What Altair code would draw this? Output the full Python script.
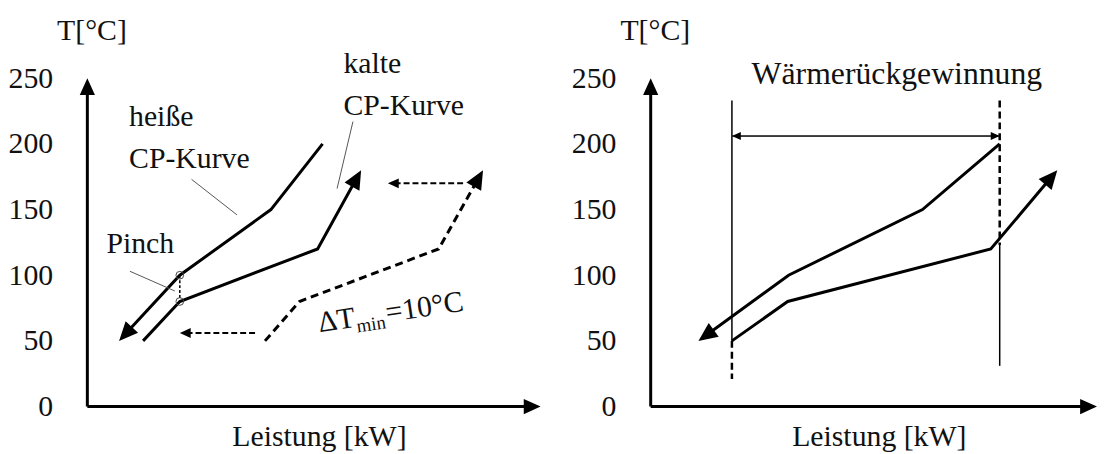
import math
import altair as alt
import pandas as pd

FONT = "Liberation Serif"
FS = 30
INK = "#000000"
TXT = "#111111"
GREY = "#555555"

Y_TICKS = [0, 50, 100, 150, 200, 250]
X_MAX = 100
Y_MAX = 250
W_L, W_R, H = 457, 450, 331

# ---------------- left panel data ----------------
L_hot_x = [51.9, 40.5, 20.4, 7.0]
L_hot_T = [200, 150, 100, 50]
L_cold_x = [12.3, 20.4, 50.8, 60.4]
L_cold_T = [50, 80, 120, 180]
L_shift_x = [39.2, 46.8, 77.5, 87.3]
L_shift_T = [50, 80, 120, 180]
L_top_arrow_x = [82.9, 66.3]
L_top_arrow_T = [170, 170]
L_bot_arrow_x = [37.0, 20.4]
L_bot_arrow_T = [56, 56]
L_pinch_x = [20.4, 20.4]
L_pinch_T = [100, 80]
L_lead_hot_x = [23.0, 33.0]
L_lead_hot_T = [173, 146]
L_lead_cold_x = [58.6, 55.1]
L_lead_cold_T = [217, 166]
L_lead_pinch_x = [9.4, 19.3]
L_lead_pinch_T = [103, 88]
L_labels = ["heiße", "CP-Kurve", "kalte", "CP-Kurve", "Pinch"]
L_label_x = [9.2, 9.2, 56.5, 56.5, 4.2]
L_label_T = [214, 182, 254, 222, 117]
DT_parts = ["ΔT", "min", "=10°C"]
DT_x = 51.2
DT_T = 56.6

# ---------------- right panel data ----------------
R_hot_x = [78.2, 60.9, 30.9, 10.7]
R_hot_T = [200, 150, 100, 50]
R_cold_x = [18.2, 30.7, 76.2, 91.1]
R_cold_T = [50, 80, 120, 180]
R_vl_left_x = 18.2
R_vl_right_x = 78.2
R_vl_left_solid_T = [233, 50]
R_vl_left_dash_T = [50, 21]
R_vl_right_dash_T = [233, 123]
R_vl_right_solid_T = [123, 31]
R_span_x = [18.2, 78.2]
R_span_T = [206, 206]
R_title = ["Wärmerückgewinnung"]
R_title_x = [22.6]
R_title_T = [245.5]

ARROW = "M0,0L-0.45,1L0.45,1Z"


def enc_x(w):
    return alt.X(
        "x:Q",
        scale=alt.Scale(domain=[0, X_MAX], nice=False, zero=False),
        axis=alt.Axis(
            title="Leistung [kW]", labels=False, ticks=False, tickSize=0, domain=False, grid=False,
            titleFont=FONT, titleFontSize=FS, titleFontWeight="normal", titleColor=TXT,
            titleX=w / 2 + 5, titleY=39, titleBaseline="alphabetic", titleAlign="center",
        ),
    )


def enc_y():
    return alt.Y(
        "y:Q",
        scale=alt.Scale(domain=[0, Y_MAX], nice=False, zero=False),
        axis=alt.Axis(
            values=Y_TICKS, ticks=False, tickSize=0, domain=False, grid=False,
            labelFont=FONT, labelFontSize=FS, labelColor=TXT, labelPadding=35,
            title="T[°C]", titleAngle=0, titleX=-31, titleY=-39, titleAlign="left",
            titleBaseline="alphabetic", titleFont=FONT, titleFontSize=FS,
            titleFontWeight="normal", titleColor=TXT,
        ),
    )


class Panel:
    def __init__(self, w):
        self.w = w
        self.sx = w / X_MAX
        self.sy = H / Y_MAX
        self.layers = []
        self.heads = []

    def line(self, xs, ys, width, dash=None, color=INK, head=None):
        xs = list(xs)
        ys = list(ys)
        if head:
            x0, x1, y0, y1 = xs[-2], xs[-1], ys[-2], ys[-1]
            dxp, dyp = (x1 - x0) * self.sx, (y1 - y0) * self.sy
            ang = math.degrees(math.atan2(dxp, dyp)) % 360
            self.heads.append({"x": x1, "y": y1, "angle": ang, "size": (2 * head) ** 2})
            d = math.hypot(dxp, dyp)
            back = min(head * 0.6, d * 0.5)
            xs[-1] = x1 - (x1 - x0) * back / d
            ys[-1] = y1 - (y1 - y0) * back / d
        df = pd.DataFrame({"x": xs, "y": ys, "i": list(range(len(xs)))})
        kw = dict(color=color, strokeWidth=width, strokeCap="butt", strokeJoin="miter")
        if dash:
            kw["strokeDash"] = dash
        self.layers.append(
            alt.Chart(df).mark_line(**kw).encode(x=enc_x(self.w), y=enc_y(), order="i:O")
        )

    def text(self, labels, xs, ys, size=FS, angle=None, dx=0, dy=0):
        df = pd.DataFrame({"x": xs, "y": ys, "t": labels})
        kw = dict(align="left", baseline="alphabetic", font=FONT, fontSize=size, color=TXT, dx=dx, dy=dy)
        if angle is not None:
            kw["angle"] = angle
        self.layers.append(
            alt.Chart(df).mark_text(**kw).encode(x=enc_x(self.w), y=enc_y(), text="t:N")
        )

    def circles(self, xs, ys):
        df = pd.DataFrame({"x": xs, "y": ys})
        self.layers.append(
            alt.Chart(df).mark_point(shape="circle", filled=False, size=60, color="#444444",
                                     strokeWidth=1, opacity=1).encode(x=enc_x(self.w), y=enc_y())
        )

    def chart(self):
        hd = pd.DataFrame(self.heads)
        heads = alt.Chart(hd).mark_point(shape=ARROW, filled=True, opacity=1, color=INK,
                                         strokeWidth=0).encode(
            x=enc_x(self.w), y=enc_y(),
            angle=alt.Angle("angle:Q", scale=None),
            size=alt.Size("size:Q", scale=None),
        )
        return alt.layer(*self.layers, heads).properties(width=self.w, height=H)


# ---------- left ----------
L = Panel(W_L)
L.line([0, 0], [0, Y_MAX], 3, head=17)
L.line([0, X_MAX], [0, 0], 3, head=17)
L.line(L_hot_x, L_hot_T, 3, head=19)
L.line(L_cold_x, L_cold_T, 3, head=19)
L.line(L_shift_x, L_shift_T, 3, dash=[8, 5], head=19)
L.line(L_top_arrow_x, L_top_arrow_T, 2, dash=[6, 3], head=11)
L.line(L_bot_arrow_x, L_bot_arrow_T, 2, dash=[6, 3], head=11)
L.line(L_pinch_x, L_pinch_T, 1.5, dash=[3, 2])
L.line(L_lead_hot_x, L_lead_hot_T, 1, color=GREY)
L.line(L_lead_cold_x, L_lead_cold_T, 1, color=GREY)
L.line(L_lead_pinch_x, L_lead_pinch_T, 1, color=GREY)
L.circles(L_pinch_x, L_pinch_T)
L.text(L_labels, L_label_x, L_label_T)
L.text([DT_parts[0]], [DT_x], [DT_T], angle=351.5)
L.text([DT_parts[1]], [DT_x], [DT_T], size=19, angle=351.5, dx=38, dy=6)
L.text([DT_parts[2]], [DT_x], [DT_T], angle=351.5, dx=69)

# ---------- right ----------
R = Panel(W_R)
R.line([0, 0], [0, Y_MAX], 3, head=17)
R.line([0, X_MAX], [0, 0], 3, head=17)
R.line(R_hot_x, R_hot_T, 3, head=19)
R.line(R_cold_x, R_cold_T, 3, head=19)
R.line([R_vl_left_x] * 2, R_vl_left_solid_T, 1.5)
R.line([R_vl_left_x] * 2, R_vl_left_dash_T, 2.5, dash=[7, 4])
R.line([R_vl_right_x] * 2, R_vl_right_dash_T, 2.5, dash=[7, 4])
R.line([R_vl_right_x] * 2, R_vl_right_solid_T, 1.5)
R.line(R_span_x, R_span_T, 1, head=9)
R.line(R_span_x[::-1], R_span_T[::-1], 1, head=9)
R.text(R_title, R_title_x, R_title_T, size=32)

chart = (
    alt.hconcat(L.chart(), R.chart(), spacing=31)
    .properties(padding={"left": 0, "top": 6, "right": 0, "bottom": 0})
    .configure_view(stroke=None)
)

chart.save("out.html", embed_options={"renderer": "svg", "actions": False})
